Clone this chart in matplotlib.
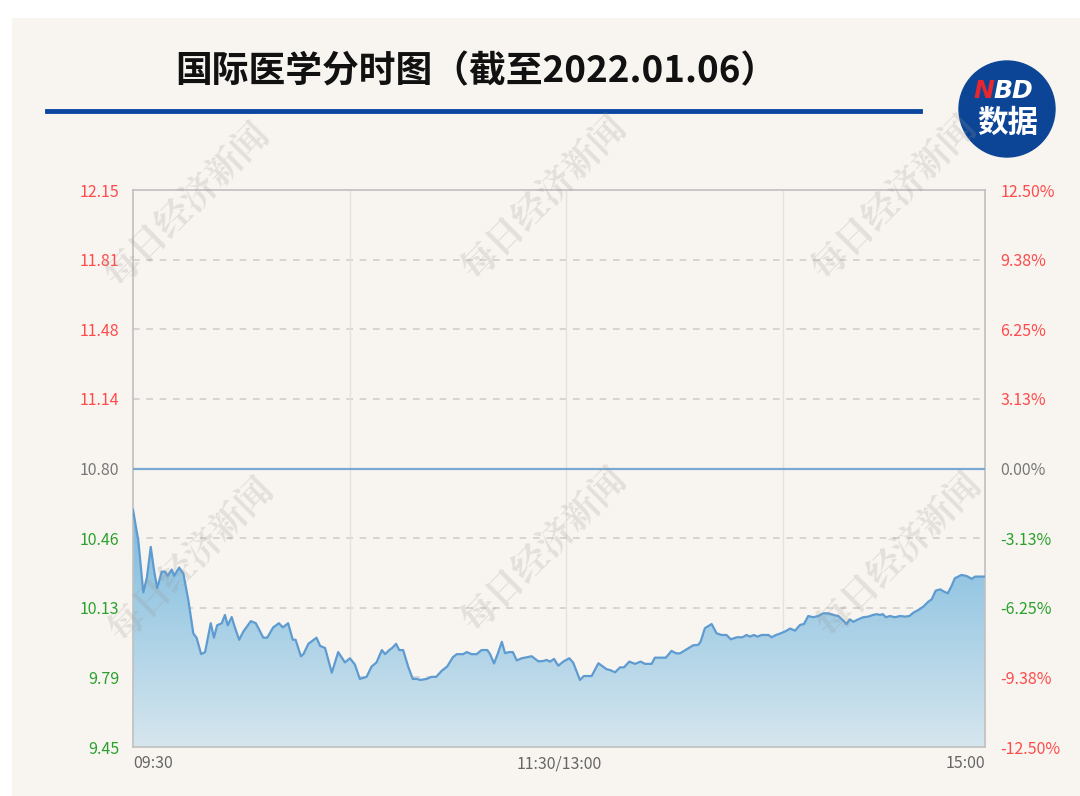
import numpy as np
import matplotlib.pyplot as plt
from matplotlib.patches import Rectangle, Circle
import matplotlib.colors as mcolors

plt.rcParams['font.family'] = ['Noto Sans CJK SC', 'DejaVu Sans']

# Intraday data (minute index from 09:30, price)
minutes = [0.0, 1.5, 2.9, 3.9, 5.0, 5.9, 6.8, 8.1, 9.0, 9.8, 10.9, 11.6, 13.0, 14.2,
           15.6, 17.0, 17.9, 19.2, 20.3, 21.9, 22.8, 23.7, 25.0, 25.9, 26.7, 27.8,
           28.7, 29.9, 31.1, 33.2, 34.6, 36.7, 37.8, 39.5, 41.1, 42.2, 43.7, 45.0,
           45.8, 47.3, 48.0, 49.4, 51.7, 52.7, 54.1, 56.0, 57.8, 59.7, 61.1, 62.5,
           63.9, 65.8, 67.2, 68.6, 70.1, 71.0, 72.2, 73.0, 74.1, 75.0, 76.1, 77.5,
           78.8, 79.9, 81.0, 82.7, 84.1, 85.4, 87.0, 88.5, 90.1, 91.2, 93.0, 94.0,
           95.4, 96.8, 98.2, 99.8, 100.6, 101.7, 102.7, 103.9, 104.8, 106.0, 107.0,
           108.1, 109.5, 110.9, 112.3, 114.2, 115.6, 116.5, 117.5, 118.6, 119.8,
           121.2, 122.9, 124.0, 125.9, 127.0, 129.2, 131.1, 133.4, 134.4, 135.8,
           137.2, 138.3, 139.8, 141.4, 143.0, 144.2, 146.1, 147.0, 148.5, 150.1,
           151.7, 153.0, 154.1, 156.0, 157.8, 159.2, 159.9, 161.1, 163.0, 164.4,
           165.8, 167.2, 168.4, 170.1, 171.7, 172.8, 173.8, 174.9, 175.9, 177.1,
           179.0, 179.9, 181.1, 182.3, 183.7, 185.1, 186.5, 187.9, 189.0, 190.2,
           191.6, 193.0, 194.5, 195.9, 197.3, 198.7, 200.1, 201.0, 201.9, 202.9,
           204.3, 205.7, 207.1, 208.4, 209.5, 210.4, 211.2, 212.1, 213.2, 214.6,
           216.1, 217.5, 218.7, 219.8, 221.2, 222.6, 224.0, 225.0, 226.1, 227.4,
           228.5, 229.5, 230.6, 231.5, 233.4, 234.8, 236.3, 237.2, 240.0]
prices = [10.60, 10.45, 10.20, 10.27, 10.42, 10.31, 10.22, 10.30, 10.30, 10.28, 10.31,
          10.28, 10.32, 10.29, 10.16, 10.00, 9.98, 9.90, 9.91, 10.05, 9.98, 10.04,
          10.05, 10.09, 10.04, 10.08, 10.03, 9.97, 10.01, 10.06, 10.05, 9.98, 9.98,
          10.03, 10.05, 10.03, 10.05, 9.97, 9.97, 9.89, 9.90, 9.95, 9.98, 9.94, 9.93,
          9.81, 9.91, 9.86, 9.88, 9.85, 9.78, 9.79, 9.84, 9.86, 9.92, 9.90, 9.92,
          9.93, 9.95, 9.92, 9.92, 9.84, 9.78, 9.78, 9.775, 9.78, 9.79, 9.79, 9.82,
          9.84, 9.885, 9.90, 9.90, 9.91, 9.90, 9.90, 9.92, 9.92, 9.90, 9.855, 9.90,
          9.96, 9.905, 9.91, 9.91, 9.87, 9.88, 9.885, 9.89, 9.865, 9.867, 9.872,
          9.864, 9.877, 9.844, 9.864, 9.880, 9.859, 9.775, 9.794, 9.794, 9.856,
          9.827, 9.823, 9.812, 9.836, 9.836, 9.864, 9.853, 9.864, 9.853, 9.853,
          9.883, 9.883, 9.883, 9.916, 9.904, 9.904, 9.924, 9.943, 9.945, 9.961,
          10.026, 10.046, 10.001, 9.993, 9.993, 9.972, 9.982, 9.982, 9.993, 9.985,
          9.993, 9.985, 9.993, 9.993, 9.982, 9.993, 10.000, 10.010, 10.024, 10.014,
          10.042, 10.046, 10.085, 10.079, 10.085, 10.098, 10.098, 10.090, 10.085,
          10.062, 10.046, 10.069, 10.057, 10.069, 10.079, 10.082, 10.090, 10.094,
          10.090, 10.094, 10.079, 10.085, 10.079, 10.085, 10.082, 10.085, 10.101,
          10.114, 10.130, 10.154, 10.166, 10.208, 10.214, 10.203, 10.195, 10.231,
          10.268, 10.284, 10.279, 10.265, 10.276, 10.276]

base = 10.80
pct_ticks = [-12.5, -9.375, -6.25, -3.125, 0, 3.125, 6.25, 9.375, 12.5]
left_labels = ['9.45', '9.79', '10.13', '10.46', '10.80', '11.14', '11.48', '11.81', '12.15']
right_labels = ['-12.50%', '-9.38%', '-6.25%', '-3.13%', '0.00%', '3.13%', '6.25%', '9.38%', '12.50%']
left_colors = ['#2ca02c'] * 4 + ['#777777'] + ['#ff4b4b'] * 4
right_colors = ['#ff4b4b', '#ff4b4b', '#2ca02c', '#2ca02c', '#777777'] + ['#ff4b4b'] * 4
time_labels = ['09:30', '11:30/13:00', '15:00']
time_pos = [0, 120, 240]
vgrid_pos = [61, 122, 183]

W, H = 1080, 796
fig = plt.figure(figsize=(W / 100, H / 100), dpi=100)
fig.patch.set_facecolor('white')
bg = '#f8f5f1'
fig.add_artist(Rectangle((12 / W, 0), 1 - 12 / W, 1 - 18 / H, transform=fig.transFigure,
                         facecolor=bg, edgecolor='none', zorder=-10))

ax = fig.add_axes([133 / W, 1 - 747 / H, (985 - 133) / W, (747 - 190) / H])
ax.set_facecolor(bg)
tick_vals = [base * (1 + p / 100) for p in pct_ticks]
ymin, ymax = tick_vals[0], tick_vals[-1]

# grid lines
for v in tick_vals[1:-1]:
    if v == base:
        continue
    ax.axhline(v, color='#cfcfcf', lw=1.2, ls=(0, (4, 4)), zorder=1)
for g in vgrid_pos:
    ax.axvline(g, color='#e4e2df', lw=1, zorder=1)

# gradient fill under the line
x = np.array(minutes)
y = np.array(prices)
poly = ax.fill_between(x, y, ymin, color='none', zorder=2)
cmap = mcolors.LinearSegmentedColormap.from_list(
    'g', [(0, '#d6e6ee'), (0.75, '#92c5e2'), (1, '#7fb9dd')])
grad = np.linspace(0, 1, 256).reshape(-1, 1)
img = ax.imshow(grad, extent=[0, 240, ymin, y.max()], origin='lower', aspect='auto',
                cmap=cmap, zorder=2)
img.set_clip_path(poly.get_paths()[0], transform=ax.transData)
ax.set_xlim(0, 240)
ax.set_ylim(ymin, ymax)

ax.plot(x, y, color='#5e9bd0', lw=1.6, zorder=3)
ax.axhline(base, color='#7aa8d2', lw=1.6, zorder=3)

for s in ax.spines.values():
    s.set_color('#c0c0c0')
    s.set_linewidth(1.2)

ax.set_yticks(tick_vals)
ax.set_yticklabels(left_labels, fontsize=11.5)
for lab, c in zip(ax.get_yticklabels(), left_colors):
    lab.set_color(c)
ax.tick_params(axis='y', length=0, pad=10)

ax2 = ax.twinx()
ax2.set_ylim(ymin, ymax)
ax2.set_yticks(tick_vals)
ax2.set_yticklabels(right_labels, fontsize=11.5)
for lab, c in zip(ax2.get_yticklabels(), right_colors):
    lab.set_color(c)
ax2.tick_params(axis='y', length=0, pad=11)
for s in ax2.spines.values():
    s.set_visible(False)

ax.set_xticks(time_pos)
ax.set_xticklabels(time_labels, fontsize=11.5, color='#666666')
xl = ax.get_xticklabels()
xl[0].set_ha('left')
xl[-1].set_ha('right')
ax.tick_params(axis='x', length=0, pad=6)

# title and underline
fig.text(476 / W, 1 - 72 / H, '国际医学分时图（截至2022.01.06）', fontsize=26.5,
         fontweight='heavy', ha='center', va='center', color='#111111')
fig.add_artist(plt.Line2D([47 / W, 920 / W], [1 - 111 / H, 1 - 111 / H],
                          color='#0b47a0', lw=3.5))

# logo
lax = fig.add_axes([(1007 - 50) / W, 1 - (109 + 50) / H, 100 / W, 100 / H])
lax.set_xlim(0, 100)
lax.set_ylim(0, 100)
lax.axis('off')
lax.add_patch(Circle((50, 50), 48, color='#0c4596'))
lax.text(37, 68, 'N', color='#e8262e', fontsize=18, fontweight='bold', style='italic',
         ha='right', va='center', family='DejaVu Sans')
lax.text(36, 68, 'BD', color='white', fontsize=18, fontweight='bold', style='italic',
         ha='left', va='center', family='DejaVu Sans')
lax.text(51, 36, '数据', color='white', fontsize=22, fontweight='bold',
         ha='center', va='center')

# watermarks
for cx, cy in [(188, 205), (545, 198), (895, 198), (192, 560), (545, 550), (900, 555)]:
    fig.text(cx / W, 1 - cy / H, '每日经济新闻', fontsize=26, fontweight='bold',
             rotation=45, ha='center', va='center', color='#9a9590', alpha=0.22,
             family=['Noto Serif CJK SC', 'Noto Sans CJK SC'], zorder=10)

fig.savefig('out.png', dpi=100, facecolor=fig.get_facecolor())
